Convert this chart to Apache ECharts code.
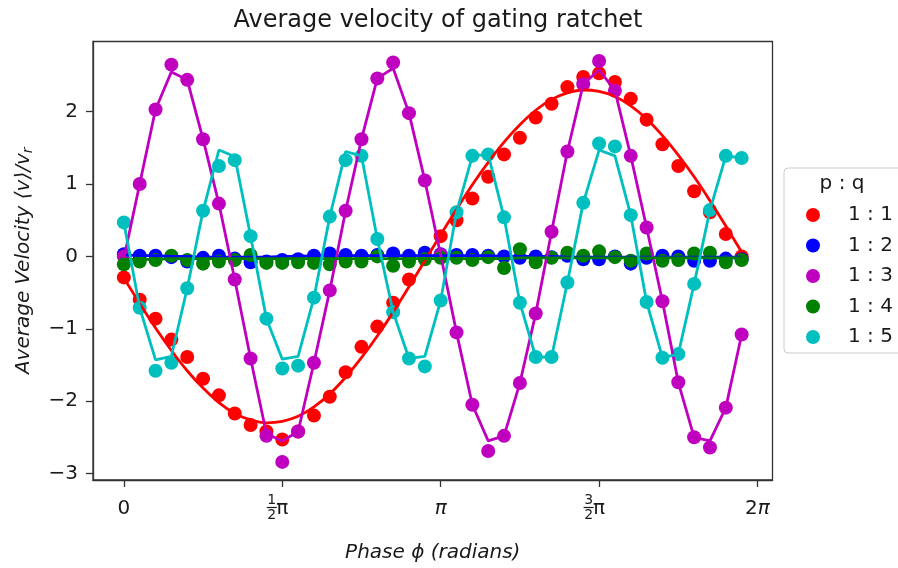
<!DOCTYPE html>
<html>
<head>
<meta charset="utf-8">
<script src="https://cdn.jsdelivr.net/npm/echarts@6/dist/echarts.min.js"></script>
<style>
  html, body { margin: 0; padding: 0; background: #fff; }
  #chart { width: 898px; height: 568px; }
</style>
</head>
<body>
<div id="chart"></div>
<script>
// ---- data ----
const phase = [0, 0.1571, 0.3142, 0.4712, 0.6283, 0.7854, 0.9425, 1.0996, 1.2566, 1.4137,
  1.5708, 1.7279, 1.8850, 2.0420, 2.1991, 2.3562, 2.5133, 2.6704, 2.8274, 2.9845,
  3.1416, 3.2987, 3.4558, 3.6128, 3.7699, 3.9270, 4.0841, 4.2412, 4.3982, 4.5553,
  4.7124, 4.8695, 5.0265, 5.1836, 5.3407, 5.4978, 5.6549, 5.8119, 5.9690, 6.1261];

const seriesNames = ['1 : 1', '1 : 2', '1 : 3', '1 : 4', '1 : 5'];

// simulated points
const pts11 = [-0.29, -0.60, -0.86, -1.15, -1.39, -1.69, -1.92, -2.17, -2.33, -2.42,
  -2.53, -2.42, -2.20, -1.94, -1.60, -1.25, -0.97, -0.64, -0.32, -0.02,
  0.28, 0.50, 0.80, 1.10, 1.41, 1.64, 1.92, 2.11, 2.34, 2.48,
  2.53, 2.41, 2.18, 1.89, 1.55, 1.25, 0.90, 0.61, 0.31, 0.00];
const pts12 = [0.03, 0.01, 0.01, -0.01, -0.07, -0.02, 0.01, -0.03, -0.08, -0.07,
  -0.05, -0.04, 0.01, 0.04, 0.02, 0.01, 0.02, 0.04, 0.01, 0.05,
  0.03, 0.02, 0.02, 0.01, 0.00, -0.02, 0.00, -0.01, 0.01, -0.04,
  -0.04, 0.00, -0.10, -0.02, 0.01, 0.00, -0.06, -0.06, -0.03, -0.04];
const pts13 = [0.00, 1.00, 2.03, 2.65, 2.44, 1.62, 0.73, -0.32, -1.41, -2.48,
  -2.84, -2.42, -1.47, -0.47, 0.63, 1.62, 2.46, 2.68, 1.98, 1.05,
  0.02, -1.05, -2.05, -2.69, -2.48, -1.75, -0.79, 0.34, 1.45, 2.38,
  2.70, 2.29, 1.39, 0.40, -0.62, -1.74, -2.50, -2.64, -2.09, -1.08];
const pts14 = [-0.11, -0.07, -0.05, 0.01, -0.05, -0.10, -0.07, -0.05, 0.02, -0.09,
  -0.09, -0.08, -0.09, -0.11, -0.07, -0.07, 0.00, -0.13, -0.07, -0.04,
  -0.02, -0.02, -0.05, -0.01, -0.16, 0.10, -0.08, -0.02, 0.05, 0.01,
  0.07, -0.01, -0.06, 0.04, -0.06, -0.05, 0.04, 0.05, -0.08, -0.05];
const pts15 = [0.47, -0.71, -1.58, -1.47, -0.44, 0.63, 1.25, 1.33, 0.28, -0.86,
  -1.55, -1.51, -0.57, 0.55, 1.33, 1.39, 0.24, -0.77, -1.41, -1.52,
  -0.61, 0.61, 1.39, 1.41, 0.54, -0.64, -1.39, -1.39, -0.36, 0.74,
  1.56, 1.52, 0.57, -0.63, -1.40, -1.35, -0.38, 0.64, 1.39, 1.36];

// curves
const line11 = [-0.30, -0.65, -0.99, -1.30, -1.58, -1.82, -2.02, -2.17, -2.26, -2.30,
  -2.28, -2.21, -2.08, -1.90, -1.67, -1.40, -1.10, -0.77, -0.42, -0.06,
  0.30, 0.65, 0.99, 1.30, 1.58, 1.82, 2.02, 2.17, 2.26, 2.30,
  2.28, 2.21, 2.08, 1.90, 1.67, 1.40, 1.10, 0.77, 0.42, 0.06];
const line12 = [0.02, 0.01, 0.01, 0.00, 0.00, -0.01, -0.01, -0.01, -0.01, -0.01,
  0.00, 0.00, 0.01, 0.01, 0.01, 0.01, 0.01, 0.01, 0.01, 0.01,
  0.01, 0.01, 0.01, 0.01, 0.00, 0.00, 0.00, 0.00, -0.01, -0.01,
  -0.01, -0.01, -0.01, -0.01, -0.01, -0.01, -0.01, -0.01, -0.01, -0.01];
const line13 = [-0.03, 1.00, 2.03, 2.55, 2.44, 1.62, 0.73, -0.32, -1.41, -2.45,
  -2.55, -2.42, -1.47, -0.47, 0.63, 1.62, 2.46, 2.60, 1.98, 1.05,
  0.02, -1.05, -2.05, -2.55, -2.48, -1.75, -0.79, 0.34, 1.45, 2.38,
  2.58, 2.29, 1.39, 0.40, -0.62, -1.74, -2.50, -2.55, -2.09, -1.08];
const line14 = [-0.04, -0.04, -0.04, -0.03, -0.03, -0.03, -0.03, -0.03, -0.03, -0.03,
  -0.03, -0.03, -0.03, -0.03, -0.03, -0.03, -0.03, -0.03, -0.03, -0.03,
  -0.03, -0.03, -0.03, -0.03, -0.03, -0.02, -0.02, -0.02, -0.02, -0.02,
  -0.02, -0.02, -0.02, -0.02, -0.02, -0.02, -0.02, -0.02, -0.02, -0.02];
const line15 = [0.47, -0.71, -1.43, -1.38, -0.44, 0.63, 1.47, 1.38, 0.28, -0.86,
  -1.42, -1.38, -0.57, 0.55, 1.45, 1.39, 0.24, -0.77, -1.41, -1.38,
  -0.61, 0.61, 1.39, 1.41, 0.54, -0.64, -1.39, -1.39, -0.36, 0.74,
  1.47, 1.39, 0.57, -0.63, -1.40, -1.35, -0.38, 0.64, 1.39, 1.36];

const xTickValues = [0, 1.5708, 3.1416, 4.7124, 6.2832];
const xTickLabels = ['0', '{u|π}', '{i|π}', '{u|π}', '2{i|π}'];
const xFracValues = [1.5708, 4.7124];
const xFracNumerators = ['1', '3'];
const xFracDenominators = ['2', '2'];
const yTickValues = [-3, -2, -1, 0, 1, 2];
const yTickLabels = ['−3', '−2', '−1', '0', '1', '2'];

const colors = ['#ff0000', '#0000ff', '#bf00bf', '#008000', '#00bfbf'];
// ---------------------------------------

const pointSets = [pts11, pts12, pts13, pts14, pts15];
const lineSets = [line11, line12, line13, line14, line15];
const zip = (ys) => phase.map((x, i) => [x, ys[i]]);

const FONT = 'DejaVu Sans';
const TXT = '#1a1a1a';
const AX = '#333333';

const series = [];
pointSets.forEach((ys, i) => {
  series.push({
    name: seriesNames[i],
    type: 'scatter',
    data: zip(ys),
    symbol: 'circle',
    symbolSize: 14,
    itemStyle: { color: colors[i], opacity: 1 },
    z: 2,
    emphasis: { disabled: true }
  });
});
lineSets.forEach((ys, i) => {
  series.push({
    name: 'curve ' + seriesNames[i],
    type: 'line',
    data: zip(ys),
    showSymbol: false,
    symbol: 'none',
    smooth: i === 0 ? 0.35 : false,
    lineStyle: { color: colors[i], width: 2.8 },
    itemStyle: { color: colors[i] },
    z: 3,
    emphasis: { disabled: true }
  });
});

const chart = echarts.init(document.getElementById('chart'), null, { renderer: 'canvas' });
chart.setOption({
  animation: false,
  backgroundColor: '#ffffff',
  textStyle: { fontFamily: FONT },
  title: {
    text: 'Average velocity of gating ratchet',
    left: 433,
    textAlign: 'center',
    top: 4,
    textStyle: { fontFamily: FONT, fontSize: 24, fontWeight: 'normal', color: TXT }
  },
  grid: {
    left: 93, right: 125.5, top: 41.5, bottom: 88,
    show: true, borderColor: AX, borderWidth: 1.3, backgroundColor: 'transparent'
  },
  legend: {
    orient: 'vertical',
    left: 784,
    top: 168,
    data: seriesNames,
    icon: 'circle',
    itemWidth: 14,
    itemHeight: 14,
    itemGap: 10.5,
    padding: [37, 22, 6, 22],
    borderColor: '#cccccc',
    borderWidth: 1,
    borderRadius: 4,
    backgroundColor: 'rgba(255,255,255,0.8)',
    selectedMode: false,
    textStyle: { fontFamily: FONT, fontSize: 20, lineHeight: 20, color: TXT, padding: [0, 0, 0, 23] }
  },
  graphic: [{
    type: 'text',
    x: 842, y: 184,
    style: { text: 'p : q', align: 'center', verticalAlign: 'middle', fontFamily: FONT, fontSize: 20, fill: TXT },
    z: 100
  }],
  xAxis: [{
    type: 'value',
    min: -0.306, max: 6.432,
    name: 'Phase ϕ (radians)',
    nameLocation: 'middle',
    nameGap: 63,
    nameTextStyle: { fontFamily: FONT, fontSize: 20, fontStyle: 'italic', color: TXT },
    axisLine: { show: true, onZero: false, lineStyle: { color: AX, width: 1.3 } },
    axisTick: { show: true, length: 7, customValues: xTickValues, lineStyle: { color: AX, width: 1.3 } },
    axisLabel: {
      customValues: xTickValues,
      margin: 19,
      fontFamily: FONT, fontSize: 20, color: TXT,
      formatter: (v) => {
        const i = xTickValues.findIndex(t => Math.abs(t - v) < 1e-3);
        return i >= 0 ? xTickLabels[i] : '';
      },
      rich: {
        i: { fontFamily: FONT, fontSize: 20, fontStyle: 'italic', color: TXT },
        u: { fontFamily: FONT, fontSize: 20, color: TXT }
      }
    },
    splitLine: { show: false }
  }, {
    type: 'value',
    min: -0.306, max: 6.432,
    position: 'bottom',
    axisLine: { show: false },
    axisTick: { show: false },
    splitLine: { show: false },
    axisLabel: {
      customValues: xFracValues,
      margin: 14,
      padding: [0, 21, 0, 0],
      color: TXT,
      formatter: (v) => {
        const i = xFracValues.findIndex(t => Math.abs(t - v) < 1e-3);
        if (i < 0) return '';
        return '{n|' + xFracNumerators[i] + '}\n{b| }\n{n|' + xFracDenominators[i] + '}';
      },
      rich: {
        n: { fontFamily: FONT, fontSize: 14, lineHeight: 12, color: TXT, align: 'center' },
        b: { width: 10, height: 1.2, lineHeight: 3, backgroundColor: TXT, fontSize: 2, align: 'center' }
      }
    }
  }],
  yAxis: {
    type: 'value',
    min: -3.09, max: 2.97,
    name: 'Average Velocity ⟨v⟩/v{s|r}',
    nameLocation: 'middle',
    nameGap: 58,
    nameTextStyle: {
      fontFamily: FONT, fontSize: 20, fontStyle: 'italic', color: TXT,
      rich: { s: { fontFamily: FONT, fontSize: 14, fontStyle: 'italic', color: TXT, verticalAlign: 'bottom', padding: [8, 0, 0, 0] } }
    },
    axisLine: { show: true, onZero: false, lineStyle: { color: AX, width: 1.3 } },
    axisTick: { show: true, length: 7, customValues: yTickValues, lineStyle: { color: AX, width: 1.3 } },
    axisLabel: {
      customValues: yTickValues,
      margin: 15,
      fontFamily: FONT, fontSize: 20, color: TXT,
      formatter: (v) => {
        const i = yTickValues.findIndex(t => Math.abs(t - v) < 1e-6);
        return i >= 0 ? yTickLabels[i] : '';
      }
    },
    splitLine: { show: false }
  },
  series: series
});
</script>
</body>
</html>
